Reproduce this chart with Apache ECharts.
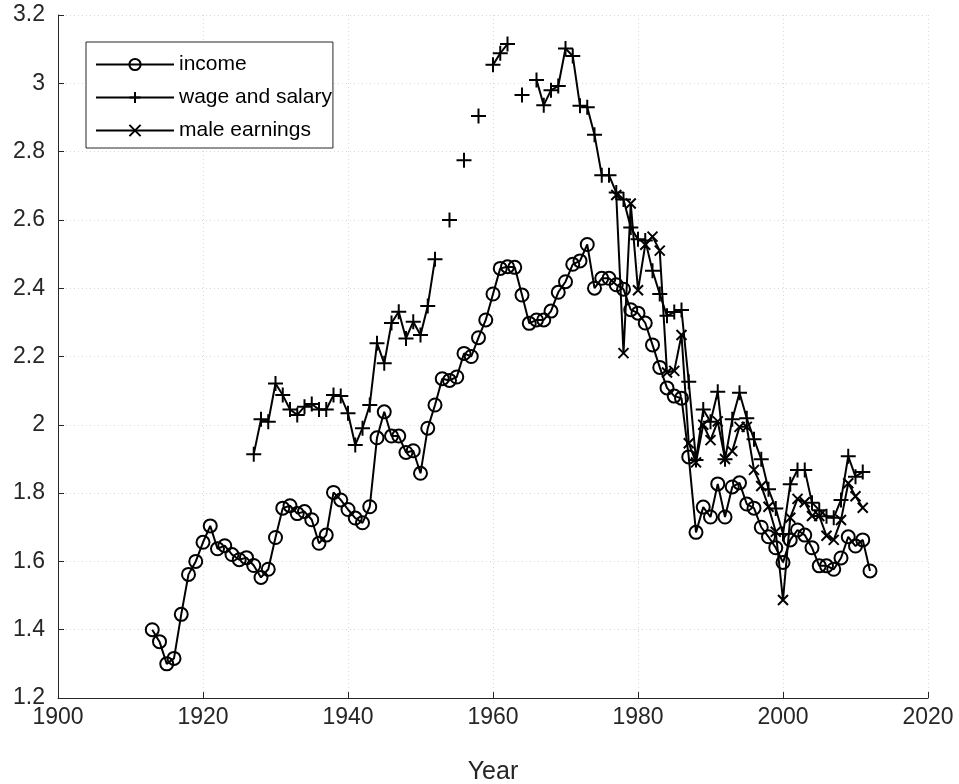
<!DOCTYPE html>
<html>
<head>
<meta charset="utf-8">
<script src="https://cdn.jsdelivr.net/npm/echarts@6/dist/echarts.min.js"></script>
<style>html,body{margin:0;padding:0;background:#fff}#c{width:959px;height:784px}</style>
</head>
<body>
<div id="c"></div>
<script>
const incomeStart = 1913;
const incomeValues = [1.40,1.365,1.30,1.316,1.445,1.562,1.60,1.656,1.704,1.637,
1.646,1.62,1.605,1.611,1.588,1.553,1.577,1.67,1.756,1.763,
1.74,1.746,1.722,1.653,1.677,1.802,1.78,1.752,1.727,1.713,
1.76,1.962,2.038,1.967,1.967,1.919,1.924,1.858,1.99,2.058,
2.135,2.13,2.14,2.209,2.20,2.255,2.307,2.383,2.458,2.463,
2.461,2.38,2.297,2.307,2.307,2.333,2.388,2.419,2.47,2.48,
2.528,2.40,2.429,2.429,2.41,2.397,2.337,2.327,2.298,2.234,
2.168,2.108,2.084,2.078,1.906,1.685,1.759,1.73,1.827,1.73,
1.818,1.83,1.768,1.756,1.70,1.672,1.64,1.597,1.663,1.692,
1.677,1.64,1.587,1.587,1.577,1.61,1.672,1.645,1.663,1.572];

const wageStart = 1927;
const wageValues = [1.914,2.016,2.009,2.121,2.087,2.045,2.029,2.053,2.061,2.045,
2.045,2.087,2.084,2.034,1.941,1.99,2.058,2.239,2.18,2.298,
2.331,2.253,2.302,2.263,2.348,2.485,'-',2.60,'-',2.775,
'-',2.904,'-',3.054,3.088,3.115,'-',2.966,'-',3.01,
2.936,2.98,2.992,3.102,3.08,2.934,2.93,2.849,2.731,2.731,
2.68,2.66,2.578,2.543,2.54,2.451,2.383,2.319,2.33,2.336,
2.126,1.897,2.045,2.009,2.097,1.899,2.016,2.094,2.019,1.958,
1.899,1.811,1.755,1.68,1.826,1.868,1.868,1.772,1.75,1.732,
1.728,1.78,1.908,1.848,1.862];

const maleStart = 1977;
const maleValues = [2.673,2.21,2.648,2.394,2.527,2.551,2.51,2.153,2.158,2.263,
1.946,1.89,2.00,1.955,2.01,1.90,1.923,1.994,1.994,1.868,
1.821,1.76,1.687,1.487,1.728,1.783,1.773,1.733,1.733,1.675,
1.663,1.721,1.829,1.791,1.757];

const xTicks = [1900,1920,1940,1960,1980,2000,2020];
const yTicks = [1.2,1.4,1.6,1.8,2,2.2,2.4,2.6,2.8,3,3.2];

function pairs(start, vals){ return vals.map((v,i)=>[start+i, v]); }

const ink = '#262626';
const font = 'Liberation Sans, Arial, sans-serif';
const plusPath = 'path://M5,0L5,10M0,5L10,5';
const crossPath = 'path://M0,0L10,10M10,0L0,10';

const chart = echarts.init(document.getElementById('c'), null, {renderer:'canvas'});
const base = {
  type:'line', showAllSymbol:true, connectNulls:false,
  lineStyle:{color:'#000', width:2},
  emphasis:{disabled:true}, animation:false
};
chart.setOption({
  animation:false,
  backgroundColor:'#fff',
  textStyle:{fontFamily:font},
  grid:{left:58, right:31, top:15, bottom:86, containLabel:false, outerBoundsMode:'none'},
  legend:{
    left:86, top:42, orient:'vertical',
    itemWidth:78, itemHeight:14, itemGap:12,
    padding:[12,1,7,9],
    borderColor:ink, borderWidth:1, backgroundColor:'#fff',
    textStyle:{fontSize:21, color:'#000', fontFamily:font},
    data:['income','wage and salary','male earnings']
  },
  xAxis:{
    type:'value', min:xTicks[0], max:xTicks[xTicks.length-1], interval:20,
    name:'Year', nameLocation:'middle', nameGap:62,
    nameTextStyle:{fontSize:25, color:ink, fontFamily:font},
    axisLine:{lineStyle:{color:ink, width:1}},
    axisTick:{inside:true, length:6, lineStyle:{color:ink}},
    axisLabel:{fontSize:23, color:ink, margin:8, fontFamily:font, formatter:v=>String(v)},
    splitLine:{show:true, lineStyle:{color:'#d9d9d9', type:[1,3], width:1}}
  },
  yAxis:{
    type:'value', min:yTicks[0], max:yTicks[yTicks.length-1], interval:0.2,
    axisLine:{show:true, lineStyle:{color:ink, width:1}},
    axisTick:{show:true, inside:true, length:6, lineStyle:{color:ink}},
    axisLabel:{fontSize:23, color:ink, margin:13, fontFamily:font, formatter:v=>String(+v.toFixed(1))},
    splitLine:{show:true, lineStyle:{color:'#d9d9d9', type:[1,3], width:1}}
  },
  series:[
    Object.assign({}, base, {
      name:'income', data:pairs(incomeStart, incomeValues),
      symbol:'circle', symbolSize:13,
      itemStyle:{color:'rgba(255,255,255,0)', borderColor:'#000', borderWidth:2}
    }),
    Object.assign({}, base, {
      name:'wage and salary', data:pairs(wageStart, wageValues),
      symbol:plusPath, symbolSize:15,
      itemStyle:{color:'rgba(0,0,0,0)', borderColor:'#000', borderWidth:2}
    }),
    Object.assign({}, base, {
      name:'male earnings', data:pairs(maleStart, maleValues),
      symbol:crossPath, symbolSize:10,
      itemStyle:{color:'rgba(0,0,0,0)', borderColor:'#000', borderWidth:2}
    })
  ]
});
</script>
</body>
</html>
